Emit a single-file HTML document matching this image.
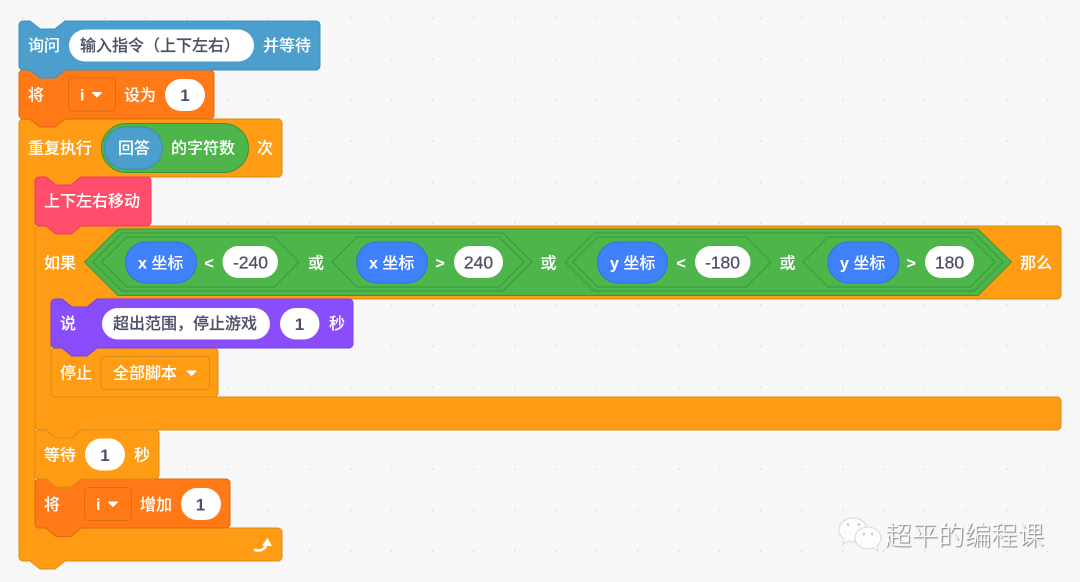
<!DOCTYPE html>
<html>
<head>
<meta charset="utf-8">
<style>
html,body{margin:0;padding:0;background:#f7f7f7;}
body{width:1080px;height:582px;overflow:hidden;position:relative;}
svg{position:absolute;left:0;top:0;filter:blur(.35px);}
text{font-family:"Liberation Sans","Noto Sans CJK SC",sans-serif;font-size:16px;font-weight:500;fill:#fff;}
text.w{stroke:#fff;stroke-width:.1px;}
text.d{fill:#4d5168;stroke:#4d5168;stroke-width:.15px;}
text.v{font-size:17.5px;fill:#4d5168;stroke:#4d5168;stroke-width:.3px;}
text.n{fill:#4d5168;font-weight:700;font-size:17px;}
text.b{font-weight:700;}
.ctr{text-anchor:middle;}
.ctl{fill:#ff9c13;stroke:#d98c1a;stroke-width:1;}
.var{fill:#ff7a17;stroke:#db6b10;stroke-width:1;}
.pill{fill:#fff;}
.hex{fill:#4db549;stroke:#3b963b;stroke-width:1;}
.rep{fill:#4080fb;stroke:#3470d8;stroke-width:1;}
#wm{position:absolute;left:885px;top:515px;font-family:"Noto Sans CJK SC","WenQuanYi Zen Hei",sans-serif;font-size:26.5px;line-height:38px;font-weight:300;color:#fbfbfb;text-shadow:1px 1px 1px #777;white-space:nowrap;}
</style>
</head>
<body>
<svg width="1080" height="582" viewBox="0 0 1080 582" xmlns="http://www.w3.org/2000/svg">
<defs>
<pattern id="dots" x="22" y="17.5" width="41" height="41" patternUnits="userSpaceOnUse">
<circle cx="0.5" cy="0.5" r="1" fill="#d8d8d8"/>
</pattern>
</defs>
<rect width="1080" height="582" fill="#f7f7f7"/>
<rect x="0" y="0" width="1080" height="582" fill="url(#dots)"/>

<!-- repeat C -->
<path class="ctl" d="M19,123 a4,4 0 0 1 4,-4 H30 L40,127 H55 L65,119 H278 a4,4 0 0 1 4,4 V173 a4,4 0 0 1 -4,4 H81 L71,185 H56 L46,177 H39 a4,4 0 0 0 -4,4 V524 a4,4 0 0 0 4,4 H278 a4,4 0 0 1 4,4 V557 a4,4 0 0 1 -4,4 H65 L55,569 H40 L30,561 H23 a4,4 0 0 1 -4,-4 Z"/>
<!-- change -->
<path class="var" d="M35,483 a4,4 0 0 1 4,-4 H46 L56,487 H71 L81,479 H226 a4,4 0 0 1 4,4 V524 a4,4 0 0 1 -4,4 H81 L71,536.500 H56 L46,528 H39 a4,4 0 0 1 -4,-4 Z"/>
<!-- wait -->
<path class="ctl" d="M35,434 a4,4 0 0 1 4,-4 H46 L56,438 H71 L81,430 H155 a4,4 0 0 1 4,4 V475 a4,4 0 0 1 -4,4 H81 L71,487 H56 L46,479 H39 a4,4 0 0 1 -4,-4 Z"/>
<!-- if C -->
<path class="ctl" d="M35,230 a4,4 0 0 1 4,-4 H46 L56,234 H71 L81,226 H1057 a4,4 0 0 1 4,4 V295 a4,4 0 0 1 -4,4 H97 L87,307 H72 L62,299 H55 a4,4 0 0 0 -4,4 V393 a4,4 0 0 0 4,4 H1057 a4,4 0 0 1 4,4 V426 a4,4 0 0 1 -4,4 H81 L71,438 H56 L46,430 H39 a4,4 0 0 1 -4,-4 Z"/>
<!-- stop -->
<path class="ctl" d="M51,352 a4,4 0 0 1 4,-4 H62 L72,356 H87 L97,348 H214 a4,4 0 0 1 4,4 V393 a4,4 0 0 1 -4,4 H55 a4,4 0 0 1 -4,-4 Z"/>
<!-- say -->
<path fill="#8a4dfb" stroke="#7a3fe0" d="M51,303 a4,4 0 0 1 4,-4 H62 L72,307 H87 L97,299 H349 a4,4 0 0 1 4,4 V344 a4,4 0 0 1 -4,4 H97 L87,356 H72 L62,348 H55 a4,4 0 0 1 -4,-4 Z"/>
<!-- move -->
<path fill="#ff4d6b" stroke="#e8405c" d="M35,181 a4,4 0 0 1 4,-4 H46 L56,185 H71 L81,177 H147 a4,4 0 0 1 4,4 V222 a4,4 0 0 1 -4,4 H81 L71,234 H56 L46,226 H39 a4,4 0 0 1 -4,-4 Z"/>
<!-- set -->
<path class="var" d="M19,74 a4,4 0 0 1 4,-4 H30 L40,78 H55 L65,70 H210 a4,4 0 0 1 4,4 V115 a4,4 0 0 1 -4,4 H65 L55,127 H40 L30,119 H23 a4,4 0 0 1 -4,-4 Z"/>
<!-- ask -->
<path fill="#4c9fcc" stroke="#3f8fbb" d="M19,25 a4,4 0 0 1 4,-4 H30 L40,29 H55 L65,21 H316 a4,4 0 0 1 4,4 V66 a4,4 0 0 1 -4,4 H65 L55,78 H40 L30,70 H23 a4,4 0 0 1 -4,-4 Z"/>

<!-- ask content -->
<text class="w" x="28" y="51">询问</text>
<rect class="pill" x="69" y="29.500" width="185" height="32" rx="16"/>
<text class="d" x="80" y="51">输入指令（上下左右）</text>
<text class="w" x="263" y="51">并等待</text>

<!-- set content -->
<text class="w" x="28" y="100.500">将</text>
<rect x="68.500" y="78" width="47" height="33" rx="4" fill="#ff7a17" stroke="#db6b10"/>
<text class="w b" x="80" y="100.500">i</text>
<path d="M92.500,92.500 h9 l-4.500,4.500 z" fill="#fff" stroke="#fff" stroke-linejoin="round"/>
<text class="w" x="124" y="100.500">设为</text>
<rect class="pill" x="165" y="79" width="40" height="32" rx="16"/>
<text class="n ctr" x="185" y="101">1</text>

<!-- repeat content -->
<text class="w" x="28" y="153.500">重复执行</text>
<rect x="101.500" y="123.500" width="147" height="49" rx="24.500" fill="#4db549" stroke="#389438"/>
<rect x="104.500" y="127" width="58" height="42" rx="21" fill="#4c9fcc" stroke="#3f8cb5"/>
<text class="w" x="118" y="153.500">回答</text>
<text class="w" x="171" y="153.500">的字符数</text>
<text class="w" x="257" y="153.500">次</text>

<!-- move -->
<text class="w" x="44" y="206.500">上下左右移动</text>

<!-- boolean -->
<path class="hex" d="M84.500,262 L118,229 H978 L1011.500,262 L978,295.500 H118 Z"/>
<path class="hex" d="M93,262 L122,233 H503 L532,262 L503,291 H122 Z"/>
<path class="hex" d="M565,262 L594,233 H974 L1003,262 L974,291 H594 Z"/>
<path class="hex" d="M101.500,262 L126.500,237 H274 L299,262 L274,287 H126.500 Z"/>
<path class="hex" d="M332,262 L357,237 H499 L524,262 L499,287 H357 Z"/>
<path class="hex" d="M572.700,262 L597.700,237 H746 L771,262 L746,287 H597.700 Z"/>
<path class="hex" d="M803,262 L828,237 H970 L995,262 L970,287 H828 Z"/>

<text class="w" x="44" y="268.500">如果</text>

<rect class="rep" x="125.500" y="242" width="71" height="41" rx="20.500"/>
<text class="w" x="138" y="268.500"><tspan font-weight="700">x</tspan> 坐标</text>
<text class="w b ctr" x="209" y="268.500">&lt;</text>
<rect class="pill" x="222.500" y="246" width="55.500" height="32" rx="16"/>
<text class="v ctr" x="250.500" y="268.500">-240</text>
<text class="w" x="308" y="268.500">或</text>

<rect class="rep" x="356.500" y="242" width="71" height="41" rx="20.500"/>
<text class="w" x="369" y="268.500"><tspan font-weight="700">x</tspan> 坐标</text>
<text class="w b ctr" x="440" y="268.500">&gt;</text>
<rect class="pill" x="454" y="246" width="49" height="32" rx="16"/>
<text class="v ctr" x="478.500" y="268.500">240</text>
<text class="w" x="540.500" y="268.500">或</text>

<rect class="rep" x="597.500" y="242" width="70" height="41" rx="20.500"/>
<text class="w" x="610" y="268.500"><tspan font-weight="700">y</tspan> 坐标</text>
<text class="w b ctr" x="681" y="268.500">&lt;</text>
<rect class="pill" x="695" y="246" width="55.500" height="32" rx="16"/>
<text class="v ctr" x="722.500" y="268.500">-180</text>
<text class="w" x="779.500" y="268.500">或</text>

<rect class="rep" x="828" y="242" width="71" height="41" rx="20.500"/>
<text class="w" x="840" y="268.500"><tspan font-weight="700">y</tspan> 坐标</text>
<text class="w b ctr" x="911" y="268.500">&gt;</text>
<rect class="pill" x="925" y="246" width="49" height="32" rx="16"/>
<text class="v ctr" x="949.500" y="268.500">180</text>
<text class="w" x="1020" y="268.500">那么</text>

<!-- say -->
<text class="w" x="60" y="329">说</text>
<rect class="pill" x="102" y="308" width="168" height="31.500" rx="15.750"/>
<text class="d" x="113" y="329">超出范围，停止游戏</text>
<rect class="pill" x="280" y="308" width="39.500" height="31.500" rx="15.750"/>
<text class="n ctr" x="299.500" y="330">1</text>
<text class="w" x="329" y="329">秒</text>

<!-- stop -->
<text class="w" x="60" y="378.500">停止</text>
<rect x="101" y="356.500" width="108.500" height="33" rx="4" fill="#ff9c13" stroke="#d98c1a"/>
<text class="w" x="113" y="378.500">全部脚本</text>
<path d="M187,371 h9 l-4.500,4.500 z" fill="#fff" stroke="#fff" stroke-linejoin="round"/>

<!-- wait -->
<text class="w" x="44" y="460.500">等待</text>
<rect class="pill" x="85" y="438.500" width="40" height="32" rx="16"/>
<text class="n ctr" x="105" y="461">1</text>
<text class="w" x="134" y="460.500">秒</text>

<!-- change -->
<text class="w" x="44" y="510">将</text>
<rect x="84.500" y="487.500" width="47" height="33" rx="4" fill="#ff7a17" stroke="#db6b10"/>
<text class="w b" x="96" y="510">i</text>
<path d="M108.500,502 h9 l-4.500,4.500 z" fill="#fff" stroke="#fff" stroke-linejoin="round"/>
<text class="w" x="140" y="510">增加</text>
<rect class="pill" x="181" y="488" width="40" height="32" rx="16"/>
<text class="n ctr" x="200.500" y="510.500">1</text>

<!-- loop arrow -->
<path d="M254,549.500 C260,552 265.500,549.500 266.500,543.500" fill="none" stroke="#fff" stroke-width="2.600"/>
<path d="M262,545.500 L267.500,538 L272,546 Z" fill="#fff"/>

<!-- wechat bubbles -->
<g stroke="#d8d8d8" stroke-width="1" fill="#fdfdfd">
<path d="M853,518 C845,518 839,523.500 839,530 C839,534 841,537 844,539 L843,544 L849,541 C851,542 853,542 855,542 C863,542 867,536 867,530 C867,523.500 861,518 853,518 Z"/>
<path d="M868,527 C861,527 855,532 855,538 C855,544 861,549 868,549 C870,549 871,549 873,548 L878,551 L877,546 C879,544 881,541 881,538 C881,532 875,527 868,527 Z"/>
</g>
<g fill="#c4c4c4">
<circle cx="848" cy="524.500" r="1.300"/><circle cx="859" cy="524.500" r="1.300"/>
<circle cx="864" cy="534" r="1.200"/><circle cx="872" cy="534" r="1.200"/>
</g>
</svg>
<div id="wm">超平的编程课</div>
</body>
</html>
